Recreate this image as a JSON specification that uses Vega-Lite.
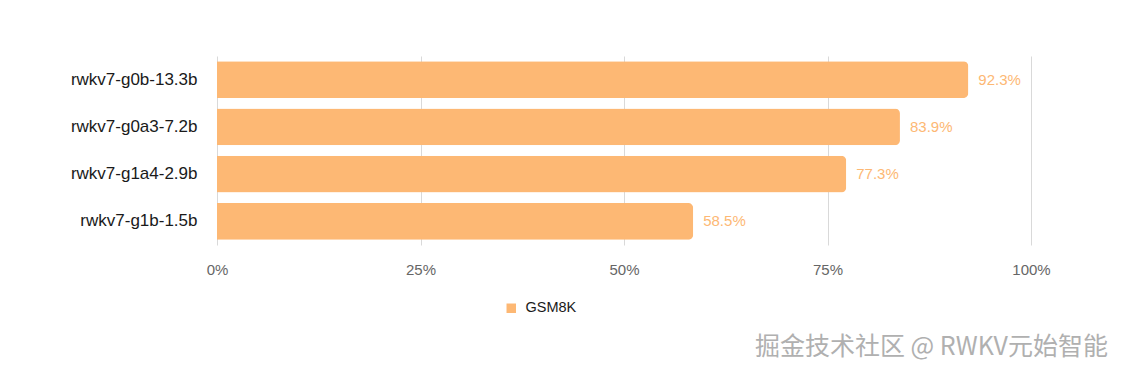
{
  "$schema": "https://vega.github.io/schema/vega-lite/v6.json",
  "width": 814,
  "height": 189,
  "autosize": {"type": "none"},
  "padding": {"left": 217, "top": 56, "right": 93, "bottom": 129},
  "background": "white",
  "config": {
    "font": "Liberation Sans",
    "view": {"stroke": null}
  },
  "title": {
    "text": "掘金技术社区 @ RWKV元始智能",
    "orient": "bottom",
    "anchor": "end",
    "frame": "group",
    "font": "Noto Sans CJK SC",
    "fontSize": 25,
    "fontWeight": "normal",
    "color": "#b0b0b0",
    "offset": 20,
    "dx": 77
  },
  "data": {
    "values": [
      {"model": "rwkv7-g0b-13.3b", "benchmark": "GSM8K", "score": 92.3, "label": "92.3%"},
      {"model": "rwkv7-g0a3-7.2b", "benchmark": "GSM8K", "score": 83.9, "label": "83.9%"},
      {"model": "rwkv7-g1a4-2.9b", "benchmark": "GSM8K", "score": 77.3, "label": "77.3%"},
      {"model": "rwkv7-g1b-1.5b", "benchmark": "GSM8K", "score": 58.5, "label": "58.5%"}
    ]
  },
  "encoding": {
    "y": {
      "field": "model",
      "type": "nominal",
      "sort": null,
      "scale": {"paddingInner": 0.22, "paddingOuter": 0.11},
      "axis": {
        "title": null,
        "domain": false,
        "ticks": false,
        "labelFontSize": 17,
        "labelColor": "#1a1a1a",
        "labelPadding": 20
      }
    },
    "x": {
      "field": "score",
      "type": "quantitative",
      "scale": {"domain": [0, 100], "nice": false},
      "axis": {
        "title": null,
        "values": [0, 25, 50, 75, 100],
        "labelExpr": "datum.value + '%'",
        "domain": false,
        "ticks": false,
        "grid": true,
        "gridColor": "#d9d9d9",
        "labelFontSize": 15,
        "labelColor": "#666666",
        "labelPadding": 17,
        "labelFlush": false
      }
    }
  },
  "layer": [
    {
      "mark": {"type": "bar", "cornerRadiusEnd": 5},
      "encoding": {
        "color": {
          "field": "benchmark",
          "type": "nominal",
          "scale": {"range": ["#fdb874"]},
          "legend": {
            "title": null,
            "orient": "none",
            "legendX": 287,
            "legendY": 245,
            "symbolType": "square",
            "symbolSize": 90,
            "labelFontSize": 14.5,
            "labelColor": "#1a1a1a",
            "labelOffset": 7
          }
        }
      }
    },
    {
      "mark": {"type": "text", "align": "left", "baseline": "middle", "dx": 10, "fontSize": 15, "color": "#fdb874"},
      "encoding": {
        "text": {"field": "label", "type": "nominal"},
        "detail": {"field": "benchmark"}
      }
    }
  ]
}
